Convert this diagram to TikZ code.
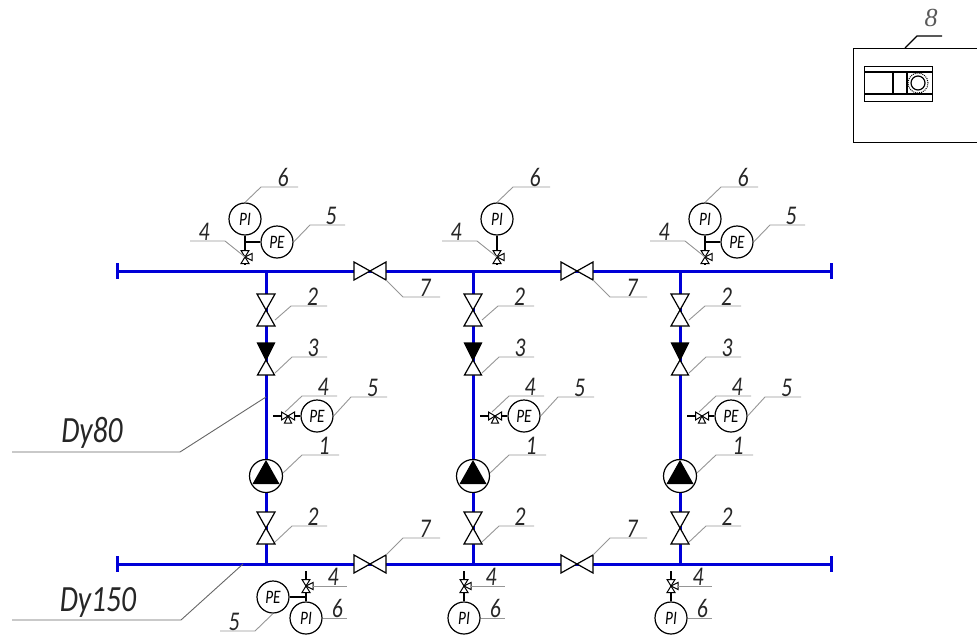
\documentclass[tikz,border=0pt]{standalone}
\usepackage{fontspec}
\setmainfont[FakeStretch=0.8]{Carlito}
\newfontfamily\serifnum{Liberation Serif}
\usetikzlibrary{calc}

\definecolor{pipeblue}{RGB}{0,0,215}
\definecolor{leadergray}{RGB}{150,150,150}

\tikzset{
  pipe/.style={draw=pipeblue,line width=3pt},
  pipeend/.style={draw=pipeblue,line width=3pt},
  leader/.style={draw=leadergray,line width=0.9pt},
  number/.style={font=\fontsize{27}{27}\selectfont\itshape,inner sep=0pt,text=black!85},
  size label/.style={font=\fontsize{37}{37}\selectfont\itshape,inner sep=0pt,text=black!85},
  gauge/.style={circle,draw,line width=1.2pt,fill=white,minimum size=32pt,inner sep=0pt,
                font=\fontsize{19}{19}\selectfont\itshape},
  pump node/.style={circle,draw,line width=1.2pt,fill=white,minimum size=33pt,inner sep=0pt},
  instr/.style={draw,line width=1.2pt},
  valve/.pic={
    \draw[line width=1.2pt,fill=white] (-9,-16) -- (9,-16) -- (-9,16) -- (9,16) -- cycle;
  },
  check valve/.pic={
    \draw[line width=1.2pt,fill=white] (0,17) -- (-8.5,32) -- (8.5,32) -- cycle;
    \draw[line width=1.2pt,fill=black] (-8.5,0) -- (8.5,0) -- (0,17) -- cycle;
  },
  small valve/.pic={
    \draw[line width=1pt,fill=white] (0,0) -- (7,-3.5) -- (7,3.5) -- cycle;
    \draw[line width=1pt,fill=white] (-4,-6.5) -- (4,-6.5) -- (-4,6.5) -- (4,6.5) -- cycle;
  },
}

% name, start, elbow, end, text
\newcommand{\callout}[5]{
  \coordinate (#1a) at (#2);
  \coordinate (#1b) at (#3);
  \coordinate (#1c) at (#4);
  \draw[leader] (#1a) -- (#1b) -- (#1c);
  \node[number,anchor=south] (#1) at ($(#1b)!0.6!(#1c)$) {#5};
}

\begin{document}
\begin{tikzpicture}[x=1pt,y=-1pt]
  \useasboundingbox (0,0) rectangle (977,637);

  %Pipes%
  \coordinate (topl) at (117,271);
  \coordinate (topr) at (831,271);
  \coordinate (botl) at (117,564);
  \coordinate (botr) at (831,564);
  \draw[pipe] (topl) -- (topr);
  \draw[pipe] (botl) -- (botr);
  \foreach \e/\x/\y in {topl/117/271,topr/831/271,botl/117/564,botr/831/564}{
    \coordinate (\e u) at (\x,\y-8);
    \coordinate (\e d) at (\x,\y+8);
    \draw[pipeend] (\e u) -- (\e d);
  }

  %Risers%
  \foreach \c/\x in {a/266,b/473,c/680}{
    \coordinate (top\c) at (\x,271);
    \coordinate (bot\c) at (\x,564);
    \draw[pipe] (top\c) -- (bot\c);
    \pic at (\x,310) {valve};
    \pic at (\x,343) {check valve};
    \pic at (\x,528) {valve};
    \node[pump node] (pump\c) at (\x,476) {};
    \fill (\x,460) -- (\x-13.5,484) -- (\x+13.5,484) -- cycle;

    %Side gauge%
    \node[gauge] (pe\c) at (\x+51,416) {PE};
    \coordinate (side\c) at (\x+7,416);
    \draw[instr] (side\c) -- (pe\c);
    \pic[rotate=-90] at (\x+22,416) {small valve};

    \callout{two\c}{\x+9,320}{\x+25,306}{\x+61,306}{2}
    \callout{three\c}{\x+9,373}{\x+26,357}{\x+61,357}{3}
    \callout{four\c}{\x+19,412}{\x+36,396}{\x+71,396}{4}
    \callout{five\c}{pe\c.east}{\x+85,397}{\x+121,397}{5}
    \callout{one\c}{\x+17,473}{\x+36,455}{\x+73,455}{1}
    \callout{low\c}{\x+9,542}{\x+26,526}{\x+61,526}{2}
  }

  %Upper gauges%
  \foreach \c/\x in {a/245,b/497,c/705}{
    \node[gauge] (pi\c) at (\x,219) {PI};
    \coordinate (stem\c) at (\x,265);
    \draw[instr] (pi\c) -- (stem\c);
    \pic at (\x,257) {small valve};
    \callout{six\c}{pi\c.north}{\x+16,187}{\x+53,187}{6}
    \callout{fourt\c}{\x,257}{\x-20,241}{\x-55,241}{4}
  }
  \foreach \c/\x in {a/245,c/705}{
    \node[gauge] (ped\c) at (\x+32,242) {PE};
    \coordinate (tee\c) at (\x,242);
    \draw[instr] (tee\c) -- (ped\c);
    \callout{fived\c}{ped\c.east}{\x+65,225}{\x+100,225}{5}
  }

  %Lower gauges%
  \foreach \c/\x in {a/306,b/464,c/671}{
    \node[gauge] (pil\c) at (\x,618) {PI};
    \coordinate (stl\c) at (\x,571);
    \draw[instr] (stl\c) -- (pil\c);
    \pic at (\x,586) {small valve};
    \callout{fourl\c}{\x+6,586}{\x+6,586}{\x+41,586}{4}
    \callout{sixl\c}{pil\c.east}{pil\c.east}{\x+41,618}{6}
  }
  \node[gauge] (pel) at (273,597) {PE};
  \coordinate (teel) at (306,597);
  \draw[instr] (pel) -- (teel);
  \callout{fivel}{pel.south}{255,631}{220,631}{5}

  %Line valves%
  \foreach \x in {370,577}{
    \pic[rotate=90] at (\x,271) {valve};
    \pic[rotate=90] at (\x,564) {valve};
    \callout{seven\x}{\x+16,280}{\x+33,297}{\x+70,297}{7}
    \callout{sevenl\x}{\x+16,555}{\x+33,538}{\x+70,538}{7}
  }

  %Sizes%
  \coordinate (dnbig) at (266,397);
  \coordinate (dnbigb) at (180,452);
  \coordinate (dnbigc) at (12,452);
  \draw[leader,draw=black!60] (dnbig) -- (dnbigb) -- (dnbigc);
  \node[size label] (dy80) at (92,433) {Dy80};
  \coordinate (dnsm) at (243,564);
  \coordinate (dnsmb) at (181,620);
  \coordinate (dnsmc) at (12,620);
  \draw[leader,draw=black!60] (dnsm) -- (dnsmb) -- (dnsmc);
  \node[size label] (dy150) at (98,602) {Dy150};

  %Cabinet%
  \node[draw,line width=1.3pt,minimum width=124pt,minimum height=94pt,anchor=north west,inner sep=0pt] (cabinet) at (852.5,48) {};
  \node[draw,line width=1.3pt,minimum width=68pt,minimum height=35pt,anchor=north west,inner sep=0pt] (panel) at (864,65.5) {};
  \coordinate (pl1) at (864,72);   \coordinate (pr1) at (932,72);
  \coordinate (pl2) at (864,94);   \coordinate (pr2) at (932,94);
  \draw[line width=1.3pt] (pl1) -- (pr1);
  \draw[line width=1.3pt] (pl2) -- (pr2);
  \coordinate (v1a) at (893,72);   \coordinate (v1b) at (893,94);
  \coordinate (v2a) at (907,72);   \coordinate (v2b) at (907,94);
  \draw[line width=1.3pt] (v1a) -- (v1b);
  \draw[line width=1.3pt] (v2a) -- (v2b);
  \node[circle,draw,line width=1.2pt,minimum size=14pt,inner sep=0pt] (lamp) at (918,83) {};
  \node[circle,draw,densely dotted,line width=1pt,minimum size=20pt,inner sep=0pt] (lampring) at (918,83) {};
  \coordinate (cab8a) at (905,48);
  \coordinate (cab8b) at (917,36);
  \coordinate (cab8c) at (942,36);
  \draw[line width=1.3pt] (cab8a) -- (cab8b) -- (cab8c);
  \node[font=\fontsize{26}{26}\selectfont\serifnum\itshape,text=black!65] (eight) at (931,18) {8};
\end{tikzpicture}
\end{document}
